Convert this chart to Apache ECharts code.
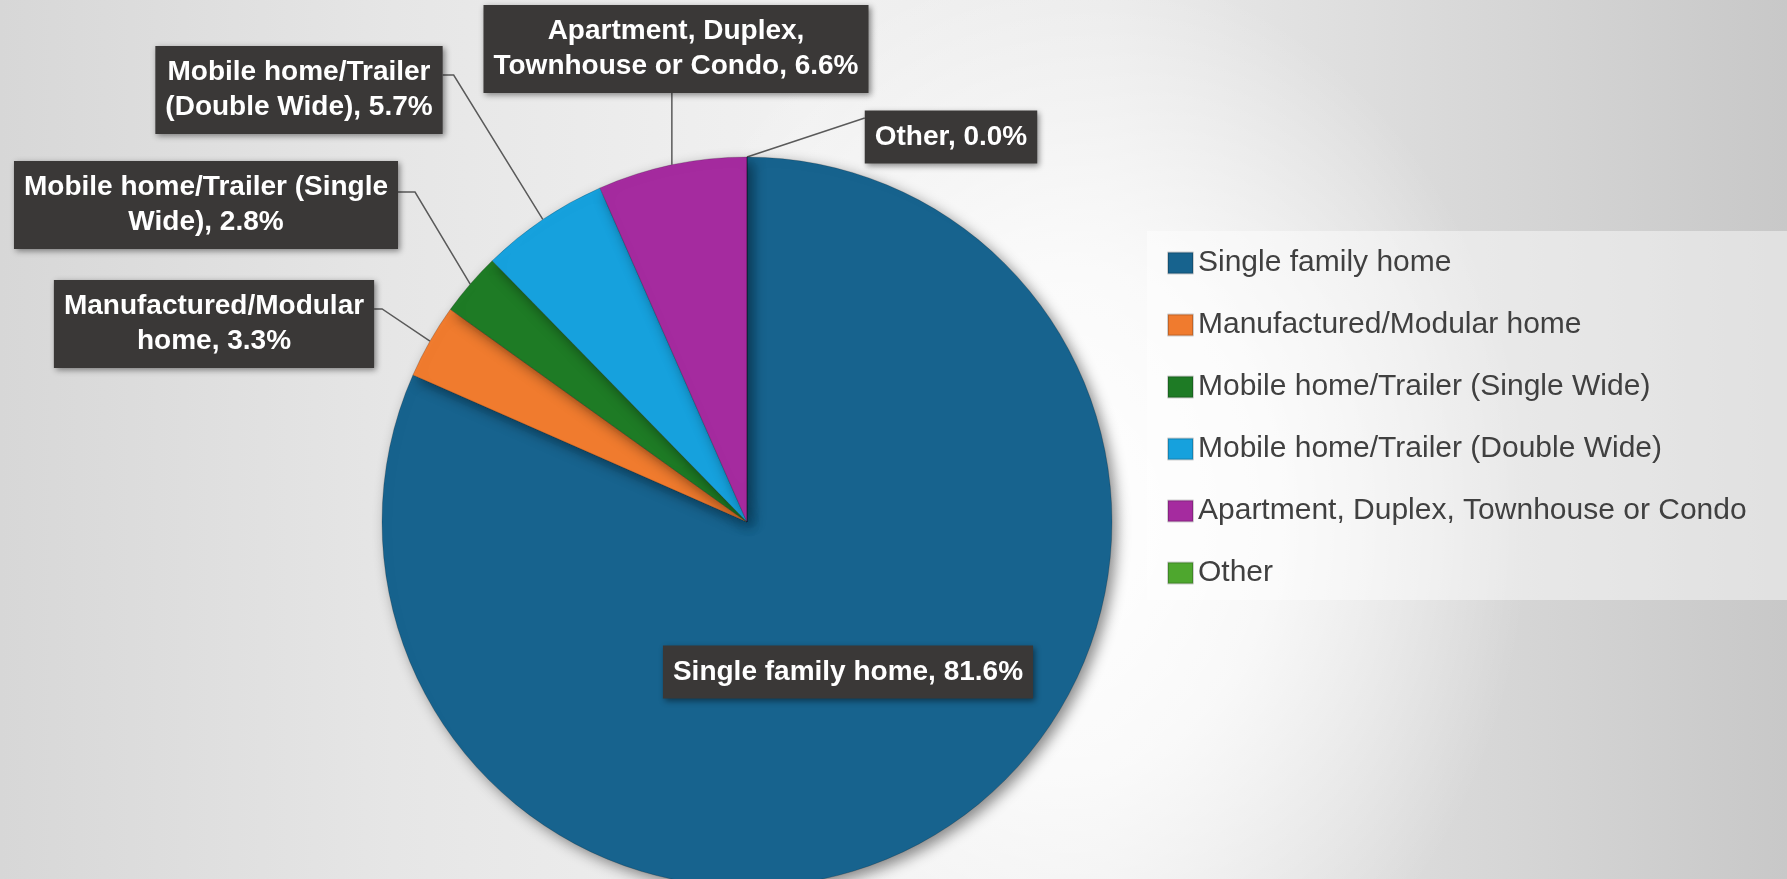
<!DOCTYPE html>
<html>
<head>
<meta charset="utf-8">
<title>Home type</title>
<style>
  html, body { margin: 0; padding: 0; overflow: hidden; }
  #chart {
    width: 1787px; height: 879px;
    background:
      radial-gradient(ellipse 460px 560px at 1070px 520px, rgba(255,255,255,1) 0%, rgba(255,255,255,0.75) 45%, rgba(255,255,255,0) 100%),
      linear-gradient(90deg, #d7d7d7 0%, #e6e6e6 22%, #f1f1f1 45%, #ebebeb 62%, #d8d8d8 82%, #c8c8c8 100%);
  }
</style>
<script src="https://cdn.jsdelivr.net/npm/echarts@6.0.0/dist/echarts.min.js"></script>
</head>
<body>
<div id="chart"></div>
<script>
var categories = [
  'Single family home',
  'Manufactured/Modular home',
  'Mobile home/Trailer (Single Wide)',
  'Mobile home/Trailer (Double Wide)',
  'Apartment, Duplex, Townhouse or Condo',
  'Other'
];
var shares = [81.6, 3.3, 2.8, 5.7, 6.6, 0.0];
// 标签里的换行写法
var labelNames = [
  'Single family home',
  'Manufactured/Modular\nhome',
  'Mobile home/Trailer (Single\nWide)',
  'Mobile home/Trailer\n(Double Wide)',
  'Apartment, Duplex,\nTownhouse or Condo',
  'Other'
];
var colors = ['#17638e', '#f07b2e', '#1e7b25', '#16a1dd', '#a52b9f', '#4ea72e'];

var pieCenter = [747, 522];
var pieRadius = 365;

// 标签框中心 + 引线接入方式
var labelSpots = [
  { x: 848, y: 672 },
  { x: 214, y: 324, side: 'right', dy: -15, elbow: 8 },
  { x: 206, y: 205, side: 'right', dy: -13, elbow: 17 },
  { x: 299, y: 90, side: 'right', dy: -15, elbow: 11 },
  { x: 676, y: 49, side: 'bottom' },
  { x: 951, y: 137, side: 'left', dy: -19, elbow: 0 }
];

var font = "'Liberation Sans', Arial, sans-serif";

var chart = echarts.init(document.getElementById('chart'));

var pieData = categories.map(function (name, i) {
  var item = { name: name, value: shares[i], itemStyle: { color: colors[i] } };
  if (i === 0) item.labelLine = { show: false };
  return item;
});

chart.setOption({
  animation: false,
  legend: {
    orient: 'vertical',
    left: 1147,
    top: 231,
    padding: [16, 200, 11, 20],
    backgroundColor: 'rgba(255,255,255,0.45)',
    icon: 'rect',
    itemWidth: 25,
    itemHeight: 21,
    itemGap: 30,
    selectedMode: false,
    textStyle: { fontSize: 30, color: '#404040', fontFamily: font, lineHeight: 32 },
    data: categories
  },
  series: [{
    type: 'pie',
    center: pieCenter,
    radius: pieRadius,
    startAngle: 90,
    clockwise: true,
    avoidLabelOverlap: false,
    silent: true,
    data: pieData,
    itemStyle: {
      borderColor: 'rgba(0,0,0,0.18)',
      borderWidth: 1,
      shadowBlur: 14,
      shadowColor: 'rgba(0,0,0,0.45)',
      shadowOffsetX: 5,
      shadowOffsetY: 5
    },
    label: {
      show: true,
      position: 'outside',
      formatter: function (p) {
        return labelNames[p.dataIndex] + ', ' + p.value.toFixed(1) + '%';
      },
      color: '#ffffff',
      fontSize: 28,
      fontWeight: 'bold',
      fontFamily: font,
      lineHeight: 35,
      align: 'center',
      backgroundColor: '#3a3837',
      padding: [9, 10],
      shadowBlur: 6,
      shadowColor: 'rgba(0,0,0,0.45)',
      shadowOffsetX: 2,
      shadowOffsetY: 2
    },
    labelLine: {
      show: true,
      lineStyle: { color: '#5a5a5a', width: 1.5 }
    },
    labelLayout: function (p) {
      var s = labelSpots[p.dataIndex];
      var w = p.labelRect.width, h = p.labelRect.height;
      var out = { x: s.x, y: s.y, align: 'center', verticalAlign: 'middle' };
      if (!s.side) return out;
      var edge = p.labelLinePoints ? p.labelLinePoints[0] : [pieCenter[0], pieCenter[1] - pieRadius];
      var end, mid;
      if (s.side === 'right') {
        end = [s.x + w / 2, s.y + s.dy];
        mid = [end[0] + s.elbow, end[1]];
      } else if (s.side === 'left') {
        end = [s.x - w / 2, s.y + s.dy];
        mid = [end[0] - s.elbow, end[1]];
      } else {
        // 竖直引线：从扇区中点正上方接到标签底边
        end = [edge[0], s.y + h / 2];
        mid = end;
      }
      out.labelLinePoints = [edge, mid, end];
      return out;
    }
  }]
});
</script>
</body>
</html>
